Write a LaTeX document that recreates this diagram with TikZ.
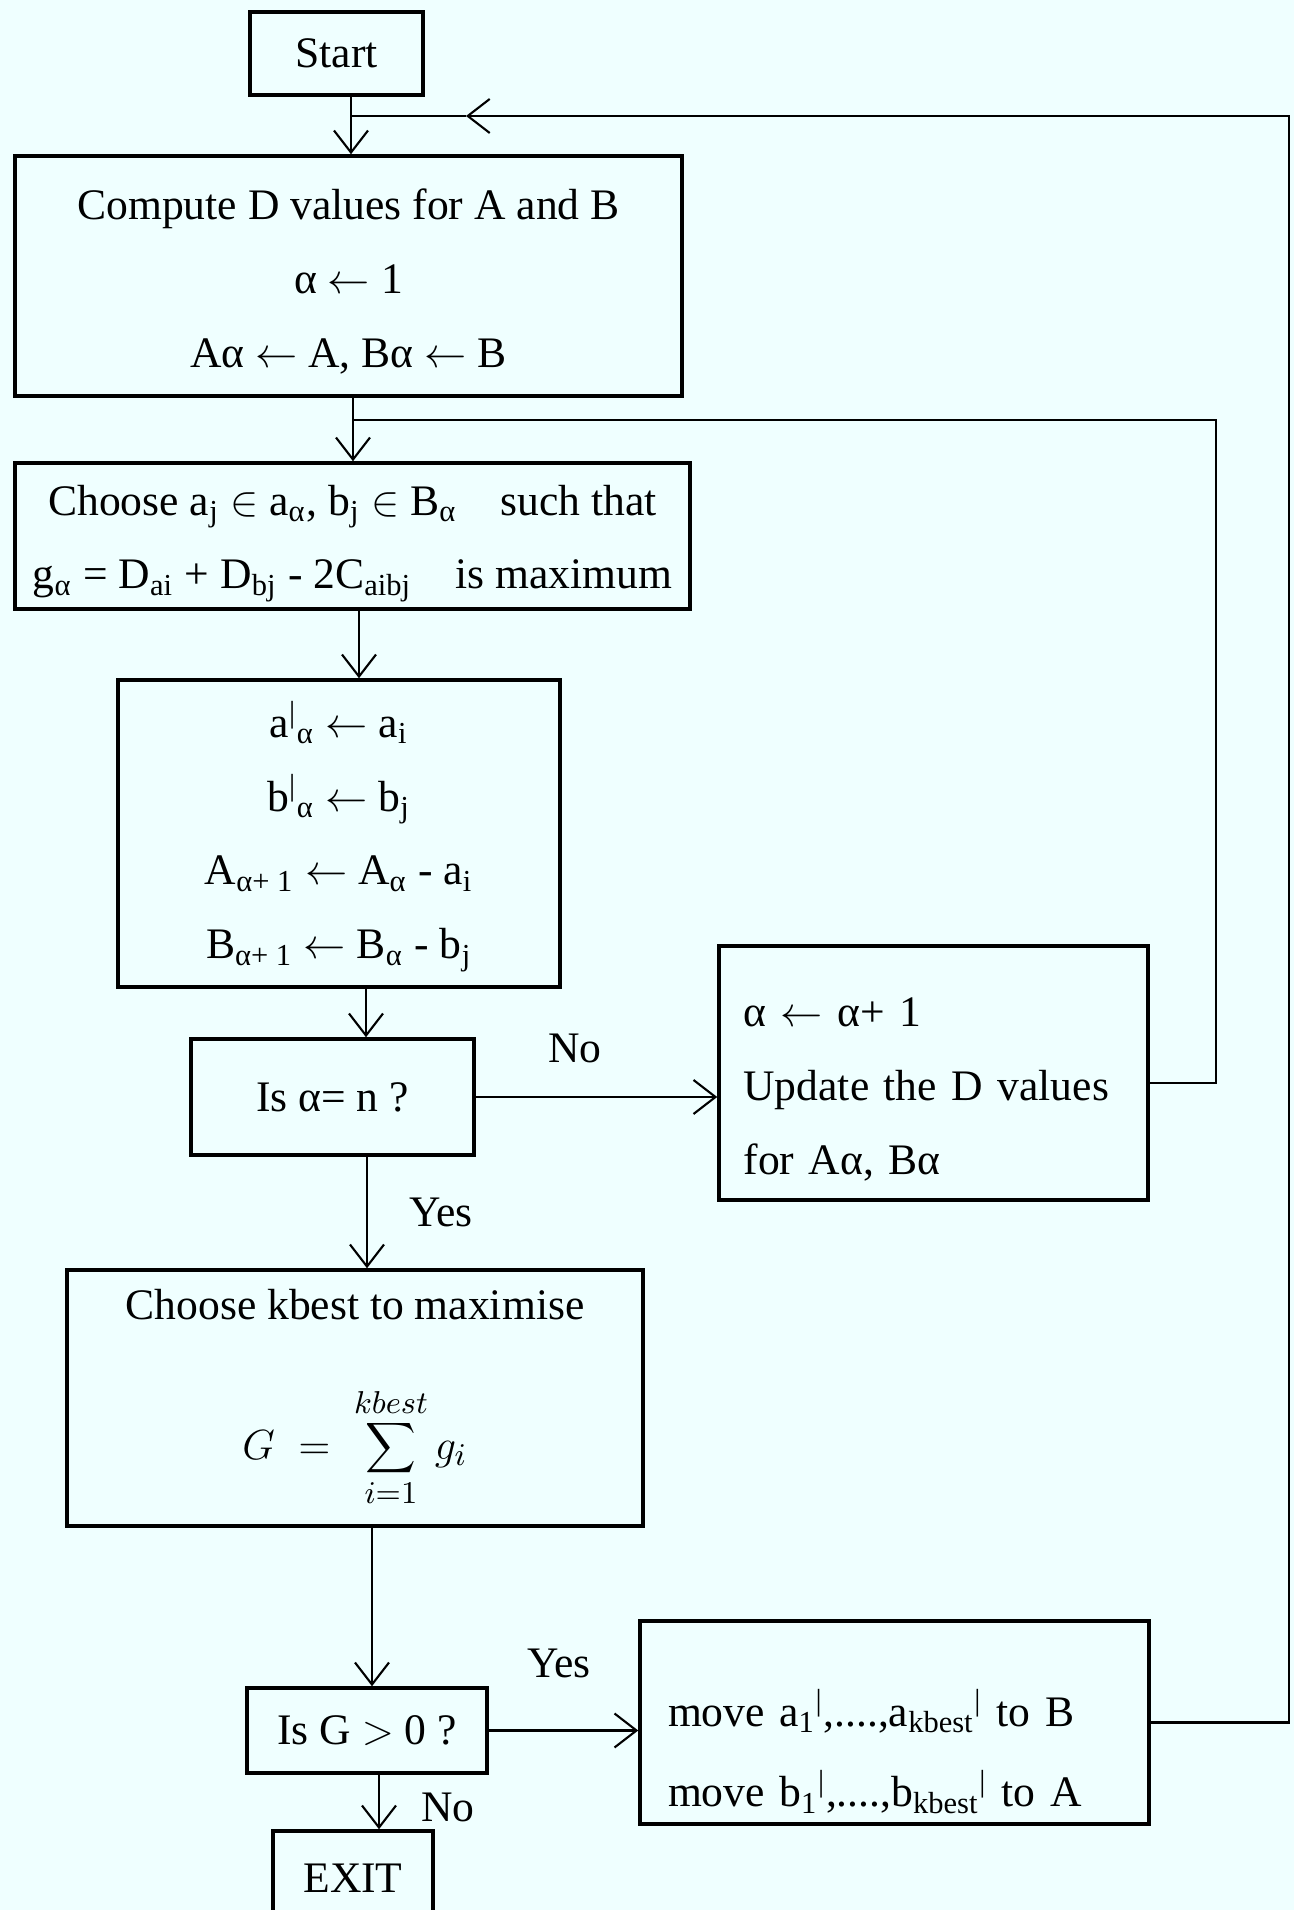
\documentclass[tikz,border=0pt]{standalone}
\usepackage{fontspec}
\setmainfont{Liberation Serif}
\usetikzlibrary{arrows.meta}
\definecolor{paper}{RGB}{239,255,255}

\begin{document}
\begin{tikzpicture}[scale=1.0,
  box/.style={draw, line width=1pt, inner sep=0pt, align=center, font=\fontsize{12.4}{21}\selectfont},
  arr/.style={line width=0.6pt, -{Straight Barb[length=2.2mm,width=3.4mm]}},
  wire/.style={line width=0.6pt},
  lbl/.style={font=\fontsize{12.4}{15}\selectfont}]
\fill[paper] (0,0) rectangle (12.94,19.10);
\useasboundingbox (0,0) rectangle (12.94,19.10);

\node[box, minimum width=1.73cm, minimum height=0.83cm] (start) at (3.365,18.565) {Start};
\node[box, minimum width=6.67cm, minimum height=2.40cm] (compute) at (3.485,16.34)
  {\rule{0pt}{0.42cm}Compute D values for A and B\\ α $\leftarrow$ 1\\ Aα $\leftarrow$ A, Bα $\leftarrow$ B};
\node[box, minimum width=6.75cm, minimum height=1.46cm] (choose) at (3.525,13.74)
  {\rule{0pt}{0.45cm}Choose a\textsubscript{j} $\in$ a\textsubscript{α}, b\textsubscript{j} $\in$ B\textsubscript{α}\quad such that\\
   g\textsubscript{α} = D\textsubscript{ai} + D\textsubscript{bj} - 2C\textsubscript{aibj}\quad is maximum};
\node[box, minimum width=4.42cm, minimum height=3.07cm] (assign) at (3.39,10.765)
  {\rule{0pt}{0.42cm}a\textsuperscript{|}\textsubscript{α} $\leftarrow$ a\textsubscript{i}\\
   b\textsuperscript{|}\textsubscript{α} $\leftarrow$ b\textsubscript{j}\\
   A\textsubscript{α+ 1} $\leftarrow$ A\textsubscript{α} - a\textsubscript{i}\\
   B\textsubscript{α+ 1} $\leftarrow$ B\textsubscript{α} - b\textsubscript{j}};
\node[box, minimum width=2.83cm, minimum height=1.16cm] (testa) at (3.325,8.13) {Is α= n ?};
\node[box, minimum width=4.29cm, minimum height=2.54cm, text width=3.8cm, align=left] (update) at (9.335,8.37)
  {\rule{0pt}{0.62cm}α $\leftarrow$ α+ 1\\ Update the D values\\ for Aα, Bα};
\node[box, minimum width=5.76cm, minimum height=2.56cm] (kbest) at (3.55,5.12)
  {Choose kbest to maximise\\[6.6mm] $\displaystyle G \;=\; \sum_{i=1}^{kbest} g_i$};
\node[box, minimum width=2.40cm, minimum height=0.85cm] (testg) at (3.67,1.795) {Is G $>$ 0 ?};
\node[box, minimum width=5.09cm, minimum height=2.03cm, text width=4.53cm, align=left,
  font=\fontsize{12.4}{23}\selectfont] (move) at (8.945,1.875)
  {\rule{0pt}{0.95cm}move a\textsubscript{1}\textsuperscript{|},....,a\textsubscript{kbest}\textsuperscript{|} to B\\
   move b\textsubscript{1}\textsuperscript{|},....,b\textsubscript{kbest}\textsuperscript{|} to A};
\node[box, minimum width=1.60cm, minimum height=0.94cm] (exit) at (3.53,0.32) {EXIT};

\node[lbl] (no1) at (5.75,8.62) {No};
\node[lbl] (yes1) at (4.41,6.98) {Yes};
\node[lbl] (yes2) at (5.59,2.47) {Yes};
\node[lbl] (no2) at (4.48,1.03) {No};

\coordinate (join) at (3.51,17.94);
\coordinate (rtop) at (12.89,17.94);
\coordinate (tip) at (4.66,17.94);
\coordinate (merge) at (3.53,14.90);
\coordinate (rmid) at (12.16,14.90);

\draw[arr] (join |- start.south) -- (join |- compute.north);
\draw[arr] (merge |- compute.south) -- (merge |- choose.north);
\draw[arr] ([xshift=0.65mm]choose.south) -- ([xshift=0.65mm]choose.south |- assign.north);
\draw[arr] ([xshift=2.7mm]assign.south) -- ([xshift=2.7mm]assign.south |- testa.north);
\draw[arr] (testa.east) -- (testa.east -| update.west);
\draw[arr] ([xshift=3.45mm]testa.south) -- ([xshift=3.45mm]testa.south |- kbest.north);
\draw[arr] ([xshift=1.7mm]kbest.south) -- ([xshift=1.7mm]kbest.south |- testg.north);
\draw[arr] (testg.east) -- (testg.east -| move.west);
\draw[arr] ([xshift=1.2mm]testg.south) -- ([xshift=1.2mm]testg.south |- exit.north);

\draw[wire] ([yshift=-1mm]update.east) -| (rmid) -- (merge);
\draw[arr] (move.east) -| (rtop) -- (tip);
\draw[wire] (tip) -- (join);

\end{tikzpicture}
\end{document}
